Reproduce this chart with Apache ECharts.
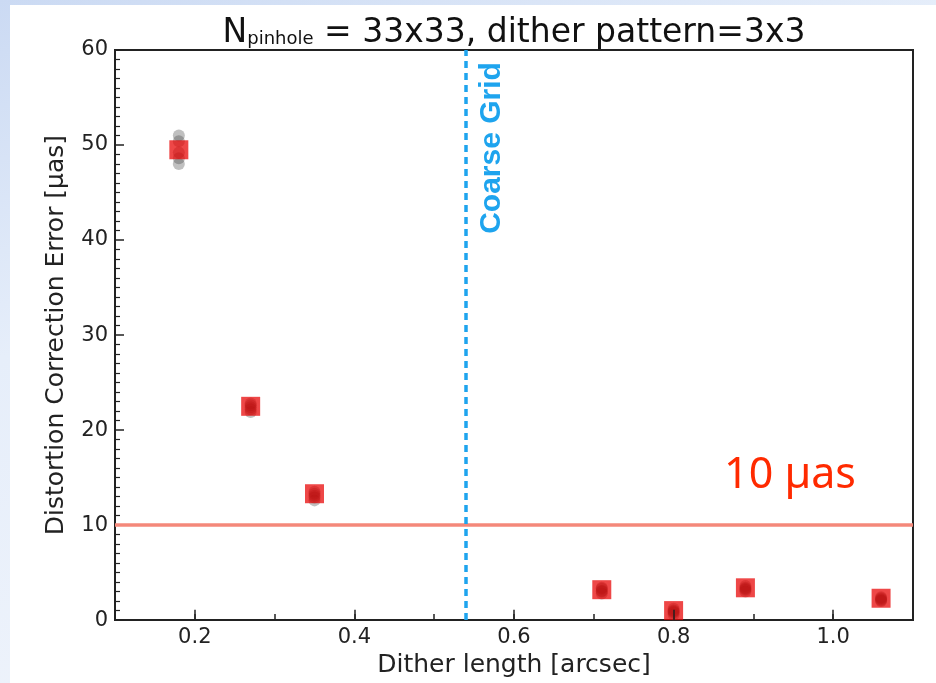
<!DOCTYPE html>
<html>
<head>
<meta charset="utf-8">
<script src="https://cdn.jsdelivr.net/npm/echarts@6/dist/echarts.min.js"></script>
<style>
  html, body { margin: 0; padding: 0; }
  body { width: 936px; height: 683px; position: relative; overflow: hidden;
         background: linear-gradient(160deg, #cbdaf3 0%, #e6eefa 35%, #f3f6fc 100%); }
  #panel { position: absolute; left: 10px; top: 5px; right: 0; bottom: 0; background: #ffffff; }
  #chart { position: absolute; left: 0; top: 0; width: 936px; height: 683px; }
</style>
</head>
<body>
<div id="panel"></div>
<div id="chart"></div>
<script>
// ---- data ----
const DITHER   = [0.18, 0.27, 0.35, 0.71, 0.80, 0.89, 1.06];   // dither length [arcsec]
const MEAN_ERR = [49.5, 22.5, 13.3, 3.2, 1.0, 3.4, 2.3];       // red squares [µas]
const RUN_1 = [51.0, 22.8, 13.5, 3.4, 1.2, 3.6, 2.4];          // grey realisations
const RUN_2 = [50.4, 22.6, 13.3, 3.3, 1.0, 3.4, 2.3];
const RUN_3 = [49.2, 22.4, 13.1, 3.1, 0.9, 3.3, 2.2];
const RUN_4 = [48.6, 22.2, 12.9, 3.0, 0.8, 3.2, 2.1];
const RUN_5 = [48.0, 21.9, 12.6, 2.8, 0.6, 3.0, 2.0];
const LIMIT_Y = 10;          // 10 µas requirement
const COARSE_X = 0.54;       // coarse grid dither length
const X_MAJOR = [0.2, 0.4, 0.6, 0.8, 1.0];
const X_MIN = 0.1, X_MAX = 1.1, Y_MIN = 0, Y_MAX = 60;

const greyData = [];
[RUN_1, RUN_2, RUN_3, RUN_4, RUN_5].forEach(run => {
  run.forEach((v, i) => greyData.push([DITHER[i], v]));
});
const meanData = DITHER.map((x, i) => [x, MEAN_ERR[i]]);

const chart = echarts.init(document.getElementById('chart'), null, { renderer: 'canvas' });
const axisFont = 'DejaVu Sans';

chart.setOption({
  backgroundColor: 'transparent',
  animation: false,
  title: {
    text: '{n|N}{sub|pinhole}{t| = 33x33, dither pattern=3x3}',
    left: 509, top: 9, textAlign: 'center',
    textStyle: {
      fontWeight: 'normal',
      rich: {
        n:   { fontFamily: 'DejaVu Sans', fontWeight: 'normal', fontSize: 33, color: '#111', lineHeight: 38 },
        sub: { fontFamily: 'DejaVu Sans', fontWeight: 'normal', fontSize: 18, color: '#111', lineHeight: 38, padding: [13, 0, 0, 0] },
        t:   { fontFamily: 'DejaVu Sans', fontWeight: 'normal', fontSize: 33, color: '#111', lineHeight: 38 }
      }
    }
  },
  grid: { left: 115, right: 23, top: 50, bottom: 62, show: true,
          borderColor: '#222', borderWidth: 2, backgroundColor: 'transparent' },
  xAxis: {
    type: 'value', min: X_MIN, max: X_MAX, interval: 0.1,
    name: 'Dither length [arcsec]', nameLocation: 'middle', nameGap: 30,
    nameTextStyle: { fontFamily: axisFont, fontSize: 25, color: '#222' },
    axisLine: { show: true, lineStyle: { color: '#222', width: 2 } },
    axisTick: { show: true, inside: true, length: 6, lineStyle: { color: '#222', width: 1.5 } },
    axisLabel: {
      fontFamily: axisFont, fontSize: 21, color: '#222', margin: 7,
      formatter: v => {
        const t = Math.round(v * 10);
        if (Math.abs(v * 10 - t) > 1e-6 || t % 2 !== 0) return '';
        return (t / 10).toFixed(1);
      }
    },
    splitLine: { show: false }
  },
  yAxis: {
    type: 'value', min: Y_MIN, max: Y_MAX, interval: 10,
    name: 'Distortion Correction Error [µas]', nameLocation: 'middle', nameGap: 46, nameRotate: 90,
    nameTextStyle: { fontFamily: axisFont, fontSize: 25, color: '#222' },
    axisLine: { show: true, lineStyle: { color: '#222', width: 2 } },
    axisTick: { show: true, inside: true, length: 9, lineStyle: { color: '#222', width: 1.5 } },
    minorTick: { show: true, splitNumber: 10, length: 5, lineStyle: { color: '#222', width: 1.2 } },
    axisLabel: { fontFamily: axisFont, fontSize: 21, color: '#222', margin: 7 },
    splitLine: { show: false }
  },
  series: [
    {
      name: 'runs', type: 'scatter', data: greyData, symbol: 'circle', symbolSize: 12,
      itemStyle: { color: 'rgba(60,60,60,0.4)' }, z: 3,
      markLine: {
        silent: true, symbol: 'none', animation: false,
        label: { show: false },
        data: [
          { yAxis: LIMIT_Y, lineStyle: { color: '#f4887a', width: 3.5, type: 'solid' } },
          [ { coord: [COARSE_X, Y_MIN] }, { coord: [COARSE_X, Y_MAX] } ]
        ],
        lineStyle: { color: '#1ea4ee', width: 3.5, type: [7, 5] }
      }
    },
    {
      name: 'mean', type: 'scatter', data: meanData, symbol: 'rect', symbolSize: 19,
      itemStyle: { color: 'rgba(232,0,0,0.9)' }, z: 4
    },
    {
      name: 'majorTicks', type: 'scatter', data: [], z: 6,
      markLine: {
        silent: true, symbol: 'none', animation: false, label: { show: false },
        lineStyle: { color: '#222', width: 1.5, type: 'solid' },
        data: X_MAJOR.map(x => [ { coord: [x, Y_MIN] }, { coord: [x, 1.1] } ])
      }
    }
  ],
  graphic: [
    {
      type: 'text', x: 492, y: 148, rotation: Math.PI / 2, silent: true,
      style: { text: 'Coarse Grid', fontFamily: 'Liberation Sans', fontWeight: 'bold', fontSize: 30,
               fill: '#1ea4ee', textAlign: 'center', textVerticalAlign: 'middle' }
    },
    {
      type: 'text', x: 790, y: 476, silent: true,
      style: { text: '10 µas', fontFamily: 'Noto Sans', fontSize: 43,
               fill: '#ff2a00', textAlign: 'center', textVerticalAlign: 'middle' }
    }
  ]
});
</script>
</body>
</html>
